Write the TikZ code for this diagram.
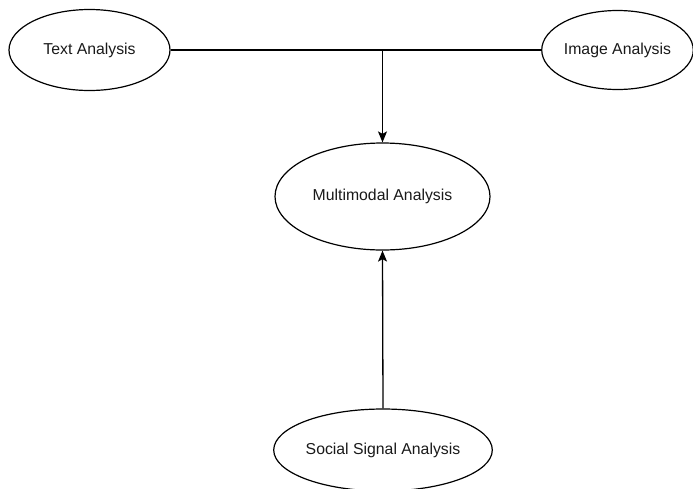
\documentclass[tikz,border=0pt]{standalone}
\usepackage{fontspec}
\setmainfont{Liberation Sans}
\usetikzlibrary{shapes.geometric,arrows.meta}
\begin{document}
\begin{tikzpicture}[x=1pt,y=-1pt,
  ell/.style={draw=black,line width=1.2pt,ellipse,inner sep=0pt,font=\fontsize{15.8}{18}\selectfont,text=black!90},
  conn/.style={draw=black,line width=1.3pt},
  arr/.style={conn,-{Stealth[length=11pt,width=9pt,inset=2.5pt]}}]
\useasboundingbox (0,0) rectangle (693,488);
\clip (0,0) rectangle (693,488);
\node[ell,minimum width=161pt,minimum height=81pt] (text) at (89.5,50) {Text Analysis};
\node[ell,minimum width=149pt,minimum height=79pt] (image) at (617.5,50) {Image Analysis};
\node[ell,minimum width=215pt,minimum height=107pt] (multi) at (382.5,196.5) {Multimodal Analysis};
\node[ell,minimum width=214pt,minimum height=82pt] (social) at (383,450) {Social Signal Analysis};
\coordinate (j) at (382.5,50);
\draw[conn] (text.east) -- (image.west);
\draw[arr] (j) -- (multi.north);
\draw[arr] (social.north) -- (multi.south);
\end{tikzpicture}
\end{document}
